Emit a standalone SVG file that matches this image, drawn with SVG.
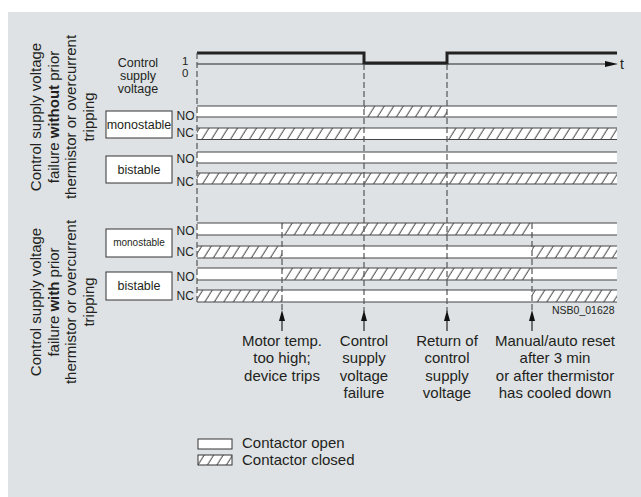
<svg xmlns="http://www.w3.org/2000/svg" width="641" height="497" viewBox="0 0 641 497">
<style>
text{font-family:"Liberation Sans",Arial,sans-serif;fill:#231f20}
.lbl{font-size:15px;text-anchor:middle}
.sm{font-size:12.5px;text-anchor:middle}
.nonc{font-size:12px}
.box{fill:#fff;stroke:#333;stroke-width:1}
.sw{fill:#fff}
.sh{fill:url(#hatch)}
.edge{stroke:#444;stroke-width:1.2;fill:none}
.dash{stroke:#555;stroke-width:1.2;stroke-dasharray:6 3;fill:none}
.solid{stroke:#222;stroke-width:1.2;fill:none}
.ah{fill:#111}
</style>
<defs>
<pattern id="hatch" patternUnits="userSpaceOnUse" width="9.5" height="10" patternTransform="skewX(-32)">
<rect width="9.5" height="10" fill="#fff"/>
<line x1="4" y1="0" x2="4" y2="10" stroke="#2a2a2a" stroke-width="1"/>
</pattern>
</defs>
<rect x="0" y="0" width="641" height="497" fill="#fff"/>
<rect x="8" y="12" width="633" height="485" fill="#dee2e5"/>

<g id="side-labels">
<text font-size="15" text-anchor="middle" transform="translate(41,117) rotate(-90)">Control supply voltage</text>
<text font-size="15" text-anchor="middle" transform="translate(58.5,117) rotate(-90)">failure <tspan font-weight="bold">without</tspan> prior</text>
<text font-size="15" text-anchor="middle" transform="translate(76,117) rotate(-90)">thermistor or overcurrent</text>
<text font-size="15" text-anchor="middle" transform="translate(93.5,117) rotate(-90)">tripping</text>
<text font-size="15" text-anchor="middle" transform="translate(41,302) rotate(-90)">Control supply voltage</text>
<text font-size="15" text-anchor="middle" transform="translate(58.5,302) rotate(-90)">failure <tspan font-weight="bold">with</tspan> prior</text>
<text font-size="15" text-anchor="middle" transform="translate(76,302) rotate(-90)">thermistor or overcurrent</text>
<text font-size="15" text-anchor="middle" transform="translate(93.5,302) rotate(-90)">tripping</text>
</g>

<g id="control-signal">
<text class="sm" x="138" y="67">Control</text>
<text class="sm" x="138" y="80">supply</text>
<text class="sm" x="138" y="93">voltage</text>
<text font-size="11.5" x="182" y="65">1</text>
<text font-size="11.5" x="182" y="77">0</text>
<line x1="197" y1="64" x2="606" y2="64" stroke="#222" stroke-width="1.2"/>
<polygon class="ah" points="605,61 618,64 605,67"/>
<text font-size="14" x="620" y="69">t</text>
<polyline points="197,53 364,53 364,63 447,63 447,53 617,53" fill="none" stroke="#222" stroke-width="3"/>
</g>

<g id="upper-monostable">
<rect class="box" x="106" y="111" width="66" height="27"/>
<text class="sm" x="139" y="129">monostable</text>
<text class="nonc" x="176.5" y="120">NO</text>
<text class="nonc" x="176.5" y="137">NC</text>
<rect class="sw" x="197" y="106" width="167" height="11"/>
<rect class="sh" x="364" y="106" width="83" height="11"/>
<rect class="sw" x="447" y="106" width="170" height="11"/>
<line class="edge" x1="197" y1="106" x2="617" y2="106"/>
<line class="edge" x1="197" y1="117" x2="617" y2="117"/>
<rect class="sh" x="197" y="128" width="167" height="11.5"/>
<rect class="sw" x="364" y="128" width="83" height="11.5"/>
<rect class="sh" x="447" y="128" width="170" height="11.5"/>
<line class="edge" x1="197" y1="128" x2="617" y2="128"/>
<line class="edge" x1="197" y1="139.5" x2="617" y2="139.5"/>
</g>

<g id="upper-bistable">
<rect class="box" x="106" y="156" width="66" height="27"/>
<text class="sm" x="139" y="174">bistable</text>
<text class="nonc" x="176.5" y="163">NO</text>
<text class="nonc" x="176.5" y="186">NC</text>
<rect class="sw" x="197" y="152" width="420" height="11"/>
<line class="edge" x1="197" y1="152" x2="617" y2="152"/>
<line class="edge" x1="197" y1="163" x2="617" y2="163"/>
<rect class="sh" x="197" y="173" width="420" height="11"/>
<line class="edge" x1="197" y1="173" x2="617" y2="173"/>
<line class="edge" x1="197" y1="184" x2="617" y2="184"/>
</g>

<g id="lower-monostable">
<rect class="box" x="106" y="229" width="66" height="28"/>
<text font-size="10" text-anchor="middle" x="139" y="246">monostable</text>
<text class="nonc" x="176.5" y="235">NO</text>
<text class="nonc" x="176.5" y="256">NC</text>
<rect class="sw" x="197" y="223" width="85" height="12"/>
<rect class="sh" x="282" y="223" width="250" height="12"/>
<rect class="sw" x="532" y="223" width="85" height="12"/>
<line class="edge" x1="197" y1="223" x2="617" y2="223"/>
<line class="edge" x1="197" y1="235" x2="617" y2="235"/>
<rect class="sh" x="197" y="246" width="85" height="12"/>
<rect class="sw" x="282" y="246" width="250" height="12"/>
<rect class="sh" x="532" y="246" width="85" height="12"/>
<line class="edge" x1="197" y1="246" x2="617" y2="246"/>
<line class="edge" x1="197" y1="258" x2="617" y2="258"/>
</g>

<g id="lower-bistable">
<rect class="box" x="106" y="272" width="66" height="28"/>
<text class="sm" x="139" y="290">bistable</text>
<text class="nonc" x="176.5" y="281">NO</text>
<text class="nonc" x="176.5" y="300">NC</text>
<rect class="sw" x="197" y="268" width="85" height="12"/>
<rect class="sh" x="282" y="268" width="250" height="12"/>
<rect class="sw" x="532" y="268" width="85" height="12"/>
<line class="edge" x1="197" y1="268" x2="617" y2="268"/>
<line class="edge" x1="197" y1="280" x2="617" y2="280"/>
<rect class="sh" x="197" y="290" width="85" height="12"/>
<rect class="sw" x="282" y="290" width="250" height="12"/>
<rect class="sh" x="532" y="290" width="85" height="12"/>
<line class="edge" x1="197" y1="290" x2="617" y2="290"/>
<line class="edge" x1="197" y1="302" x2="617" y2="302"/>
</g>

<g id="connectors">
<line class="dash" x1="197" y1="53" x2="197" y2="302"/>
<line class="dash" x1="364" y1="64" x2="364" y2="312"/>
<line class="dash" x1="447" y1="64" x2="447" y2="312"/>
<line class="dash" x1="282" y1="223" x2="282" y2="312"/>
<line class="dash" x1="532" y1="223" x2="532" y2="312"/>
<line class="solid" x1="282" y1="320" x2="282" y2="331"/>
<line class="solid" x1="364" y1="320" x2="364" y2="331"/>
<line class="solid" x1="447" y1="320" x2="447" y2="331"/>
<line class="solid" x1="532" y1="320" x2="532" y2="331"/>
<polygon class="ah" points="282,310 285,321 279,321"/>
<polygon class="ah" points="364,310 367,321 361,321"/>
<polygon class="ah" points="447,310 450,321 444,321"/>
<polygon class="ah" points="532,310 535,321 529,321"/>
</g>

<g id="event-motor">
<text class="lbl" x="282" y="345.5">Motor temp.</text>
<text class="lbl" x="282" y="363">too high;</text>
<text class="lbl" x="282" y="380.5">device trips</text>
</g>
<g id="event-failure">
<text class="lbl" x="364" y="345.5">Control</text>
<text class="lbl" x="364" y="363">supply</text>
<text class="lbl" x="364" y="380.5">voltage</text>
<text class="lbl" x="364" y="398">failure</text>
</g>
<g id="event-return">
<text class="lbl" x="447" y="345.5">Return of</text>
<text class="lbl" x="447" y="363">control</text>
<text class="lbl" x="447" y="380.5">supply</text>
<text class="lbl" x="447" y="398">voltage</text>
</g>
<g id="event-reset">
<text class="lbl" x="555" y="345.5">Manual/auto reset</text>
<text class="lbl" x="555" y="363">after 3 min</text>
<text class="lbl" x="555" y="380.5">or after thermistor</text>
<text class="lbl" x="555" y="398">has cooled down</text>
</g>

<text font-size="10.5" x="552" y="314" fill="#333">NSB0_01628</text>

<g id="legend">
<rect x="198" y="439" width="34" height="10" fill="#fff" stroke="#333" stroke-width="1"/>
<rect x="198" y="455" width="34" height="10" fill="url(#hatch)" stroke="#333" stroke-width="1"/>
<text font-size="15" x="242" y="448">Contactor open</text>
<text font-size="15" x="242" y="465">Contactor closed</text>
</g>
</svg>
